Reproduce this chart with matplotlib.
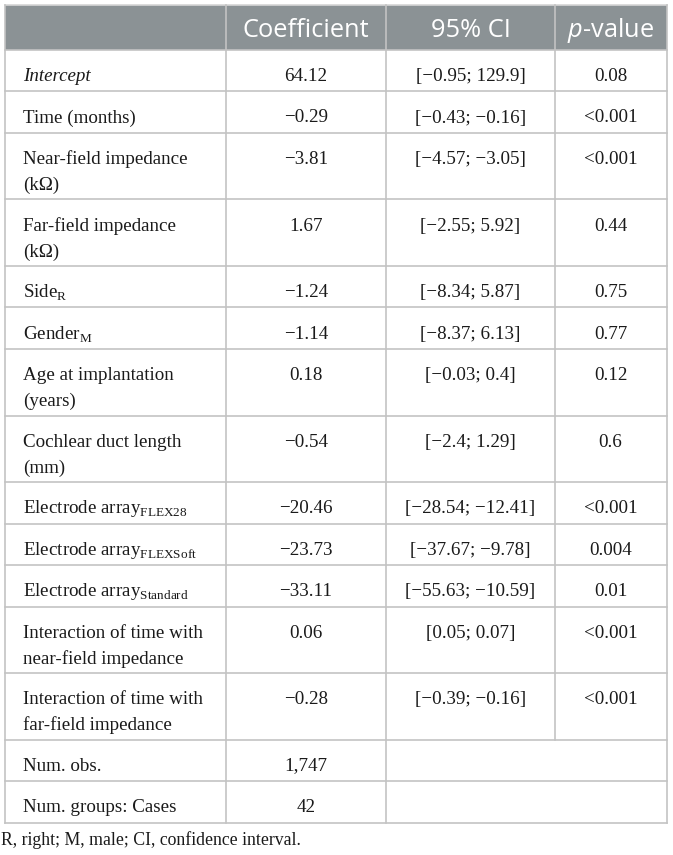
import matplotlib.pyplot as plt

plt.rcParams['mathtext.fontset'] = 'custom'
plt.rcParams['mathtext.rm'] = 'Liberation Serif'
plt.rcParams['mathtext.it'] = 'Open Sans:italic'

# table content
headers = ['Coefficient', '95% CI', '$\\mathit{p}$-value']
terms = ['Intercept', 'Time (months)', 'Near-field impedance\n(k\u03a9)',
         'Far-field impedance\n(k\u03a9)', 'Side$_{\\mathrm{R}}$', 'Gender$_{\\mathrm{M}}$',
         'Age at implantation\n(years)', 'Cochlear duct length\n(mm)',
         'Electrode array$_{\\mathrm{FLEX28}}$', 'Electrode array$_{\\mathrm{FLEXSoft}}$',
         'Electrode array$_{\\mathrm{Standard}}$',
         'Interaction of time with\nnear-field impedance',
         'Interaction of time with\nfar-field impedance',
         'Num. obs.', 'Num. groups: Cases']
coefs = ['64.12', '\u22120.29', '\u22123.81', '1.67', '\u22121.24', '\u22121.14', '0.18',
         '\u22120.54', '\u221220.46', '\u221223.73', '\u221233.11', '0.06', '\u22120.28',
         '1,747', '42']
cis = ['[\u22120.95; 129.9]', '[\u22120.43; \u22120.16]', '[\u22124.57; \u22123.05]',
       '[\u22122.55; 5.92]', '[\u22128.34; 5.87]', '[\u22128.37; 6.13]', '[\u22120.03; 0.4]',
       '[\u22122.4; 1.29]', '[\u221228.54; \u221212.41]', '[\u221237.67; \u22129.78]',
       '[\u221255.63; \u221210.59]', '[0.05; 0.07]', '[\u22120.39; \u22120.16]', '', '']
pvals = ['0.08', '<0.001', '<0.001', '0.44', '0.75', '0.77', '0.12', '0.6', '<0.001',
         '0.004', '0.01', '<0.001', '<0.001', '', '']
footnote = 'R, right; M, male; CI, confidence interval.'

W, H = 673, 855
fig = plt.figure(figsize=(W / 100, H / 100), dpi=100)
ax = fig.add_axes([0, 0, 1, 1])
ax.set_xlim(0, W)
ax.set_ylim(H, 0)
ax.axis('off')

line_c = '#c3c3c3'
head_c = '#8b9295'
txt_c = '#1a1a1a'
lw = 1.2

x_left, x_right = 4.5, 666.5
col_x = [226, 386, 555]
centers = [306, 470.5, 610.5]
top, head_bot = 5, 50
body_font = 'Liberation Serif'
fs = 13.7

# header band
ax.fill_between([x_left, x_right], top, head_bot, color=head_c, lw=0, zorder=0)
for c, h in zip(centers, headers):
    ax.text(c, top + 32, h, ha='center', va='baseline', color='white',
            fontsize=18.3, family='Open Sans')

# body rows
y = head_bot
row_bounds = [y]
for i, term in enumerate(terms):
    nlines = term.count('\n') + 1
    h = 41.5 if nlines == 1 else 66.5
    base = y + 31
    lines = term.split('\n')
    for k, ln in enumerate(lines):
        ax.text(23, base + 26 * k, ln, ha='left', va='baseline', color=txt_c,
                fontsize=fs, family=body_font,
                style='italic' if term == 'Intercept' else 'normal')
    for c, val in zip(centers, [coefs[i], cis[i], pvals[i]]):
        if val:
            ax.text(c, base, val, ha='center', va='baseline', color=txt_c,
                    fontsize=fs, family=body_font)
    y += h
    row_bounds.append(y)

bottom = row_bounds[-1]
# horizontal rules
ax.plot([x_left, x_right], [top, top], color='#d6d6d6', lw=lw)
for yb in row_bounds:
    ax.plot([x_left, x_right], [yb, yb], color=line_c, lw=lw)
# vertical rules
ax.plot([x_left, x_left], [top, bottom], color=line_c, lw=lw)
ax.plot([x_right, x_right], [top, bottom], color=line_c, lw=lw)
ax.plot([col_x[0], col_x[0]], [top, bottom], color=line_c, lw=lw)
ax.plot([col_x[1], col_x[1]], [top, bottom], color=line_c, lw=lw)
ax.plot([col_x[2], col_x[2]], [top, row_bounds[-3]], color=line_c, lw=lw)

ax.text(1, bottom + 22, footnote, ha='left', va='baseline', color=txt_c,
        fontsize=12.8, family=body_font)

fig.savefig('out.png', dpi=100)
